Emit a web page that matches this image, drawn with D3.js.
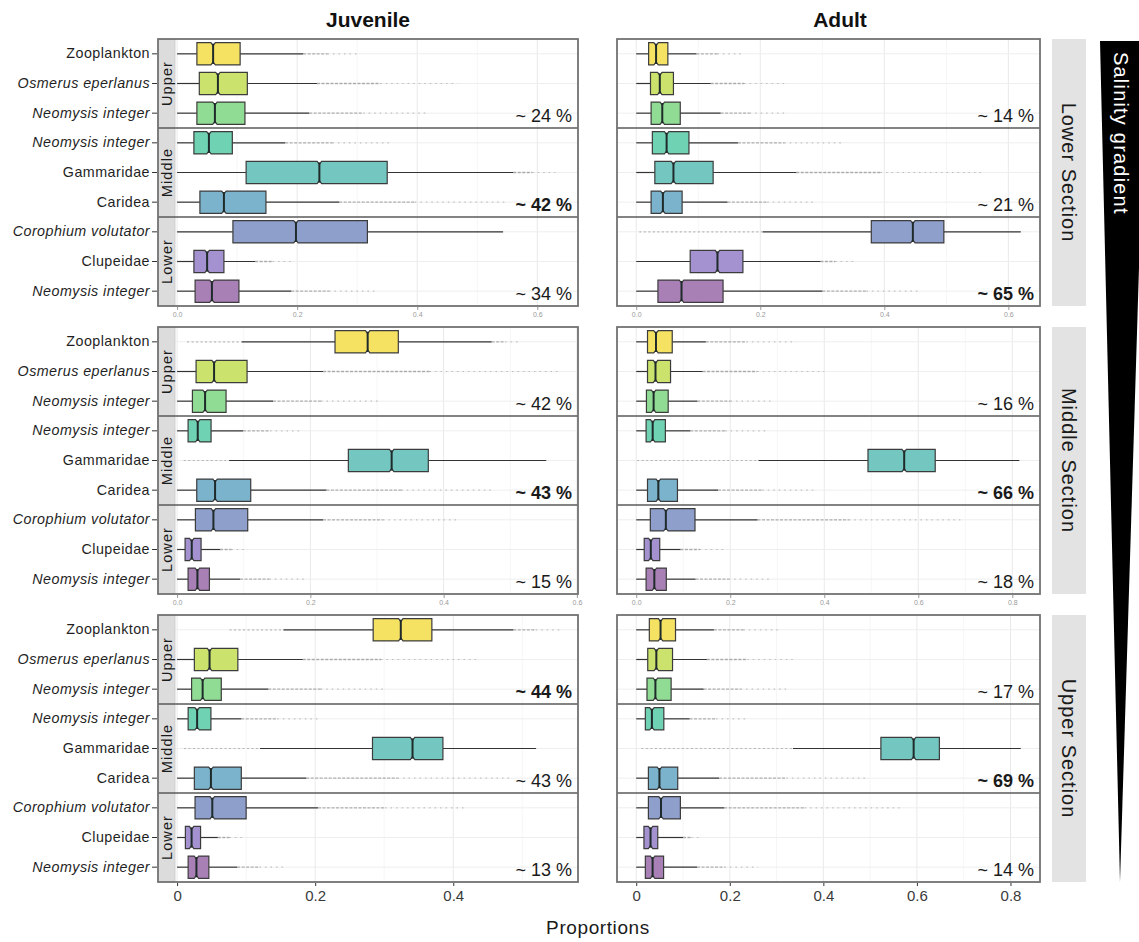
<!DOCTYPE html>
<html>
<head>
<meta charset="utf-8">
<script src="https://cdn.jsdelivr.net/npm/d3@7"></script>
<style>
  body { margin: 0; background: #fff; }
  svg { display: block; }
  text { font-family: "Liberation Sans", Arial, Helvetica, sans-serif; }
</style>
</head>
<body>
<svg id="chart" width="1139" height="942"></svg>
<script>
// ---- categories ----
const speciesNames = ["Zooplankton", "Osmerus eperlanus", "Neomysis integer",
  "Neomysis integer", "Gammaridae", "Caridea",
  "Corophium volutator", "Clupeidae", "Neomysis integer"];
const speciesItalic = [false, true, true, true, false, false, true, false, true];
const habitatGroups = ["Upper", "Middle", "Lower"];
const sectionNames = ["Lower Section", "Middle Section", "Upper Section"];
const stageNames = ["Juvenile", "Adult"];
const speciesFill = ["#f6e262", "#cbe36d", "#90dc94", "#6fd2b3", "#74c7c0",
  "#7cb3cc", "#8f9fcc", "#a392cf", "#a880b6"];

// ---- box statistics, one row per prey source ----
// [whisker low, Q1, median, Q3, whisker high, lowest outlier, highest outlier]
const juvenileLower = [
  [0, 0.033, 0.060, 0.105, 0.210, 0, 0.300],
  [0, 0.037, 0.068, 0.117, 0.233, 0, 0.467],
  [0, 0.033, 0.063, 0.113, 0.220, 0, 0.420],
  [0, 0.028, 0.053, 0.092, 0.180, 0, 0.355],
  [0, 0.115, 0.237, 0.350, 0.560, 0, 0.630],
  [0, 0.038, 0.078, 0.148, 0.270, 0, 0.550],
  [0, 0.093, 0.198, 0.317, 0.543, 0, 0.543],
  [0, 0.028, 0.050, 0.078, 0.130, 0, 0.195],
  [0, 0.030, 0.058, 0.103, 0.190, 0, 0.330]
];
const adultLower = [
  [0, 0.020, 0.032, 0.051, 0.097, 0, 0.172],
  [0, 0.023, 0.038, 0.060, 0.120, 0, 0.240],
  [0, 0.024, 0.042, 0.071, 0.136, 0, 0.240],
  [0, 0.026, 0.049, 0.085, 0.164, 0, 0.330],
  [0, 0.030, 0.060, 0.124, 0.258, 0, 0.560],
  [0, 0.024, 0.043, 0.074, 0.147, 0, 0.290],
  [0.204, 0.379, 0.446, 0.496, 0.620, 0.005, 0.620],
  [0, 0.087, 0.131, 0.172, 0.297, 0, 0.350],
  [0, 0.035, 0.073, 0.140, 0.300, 0, 0.458]
];
const juvenileMiddle = [
  [0.097, 0.237, 0.286, 0.332, 0.472, 0.015, 0.517],
  [0, 0.0285, 0.0555, 0.105, 0.219, 0, 0.574],
  [0, 0.023, 0.042, 0.0735, 0.144, 0, 0.304],
  [0, 0.0165, 0.031, 0.051, 0.099, 0, 0.189],
  [0.078, 0.257, 0.322, 0.377, 0.554, 0.010, 0.554],
  [0, 0.0295, 0.057, 0.1105, 0.224, 0, 0.474],
  [0, 0.0275, 0.0545, 0.106, 0.219, 0, 0.419],
  [0, 0.012, 0.022, 0.036, 0.0645, 0, 0.102],
  [0, 0.0165, 0.0305, 0.0485, 0.0945, 0, 0.192]
];
const adultMiddle = [
  [0, 0.024, 0.042, 0.0766, 0.148, 0, 0.340],
  [0, 0.024, 0.041, 0.073, 0.141, 0, 0.400],
  [0, 0.0217, 0.037, 0.068, 0.130, 0, 0.287],
  [0, 0.021, 0.035, 0.062, 0.115, 0, 0.280],
  [0.260, 0.493, 0.570, 0.636, 0.815, 0.002, 0.815],
  [0, 0.024, 0.047, 0.0877, 0.174, 0, 0.383],
  [0, 0.030, 0.063, 0.125, 0.258, 0, 0.690],
  [0, 0.017, 0.031, 0.050, 0.094, 0, 0.185],
  [0, 0.021, 0.0385, 0.064, 0.126, 0, 0.283]
];
const juvenileUpper = [
  [0.154, 0.284, 0.324, 0.369, 0.487, 0.076, 0.559],
  [0, 0.025, 0.047, 0.088, 0.182, 0, 0.434],
  [0, 0.021, 0.037, 0.064, 0.132, 0, 0.301],
  [0, 0.016, 0.029, 0.049, 0.093, 0, 0.209],
  [0.120, 0.283, 0.341, 0.385, 0.520, 0.010, 0.520],
  [0, 0.025, 0.049, 0.093, 0.187, 0, 0.481],
  [0, 0.026, 0.051, 0.100, 0.204, 0, 0.420],
  [0, 0.012, 0.021, 0.034, 0.059, 0, 0.096],
  [0, 0.016, 0.028, 0.046, 0.087, 0, 0.159]
];
const adultUpper = [
  [0, 0.028, 0.052, 0.084, 0.166, 0, 0.306],
  [0, 0.0246, 0.043, 0.0776, 0.151, 0, 0.343],
  [0, 0.023, 0.041, 0.0746, 0.144, 0, 0.320],
  [0, 0.0195, 0.0335, 0.059, 0.114, 0, 0.240],
  [0.335, 0.523, 0.593, 0.648, 0.822, 0.011, 0.822],
  [0, 0.026, 0.0496, 0.0887, 0.177, 0, 0.497],
  [0, 0.026, 0.053, 0.0944, 0.188, 0, 0.570],
  [0, 0.0165, 0.0306, 0.046, 0.100, 0, 0.140],
  [0, 0.0195, 0.035, 0.0585, 0.130, 0, 0.260]
];

// largest proportion reached in each panel (sets the x range)
const axisMaxJuvenile = [0.636, 0.573, 0.553];
const axisMaxAdult = [0.620, 0.818, 0.822];

// approximate share (%) of each habitat group, per section
const sharesJuvenile = [[24, 42, 34], [42, 43, 15], [44, 43, 13]];
const sharesAdult = [[14, 21, 65], [16, 66, 18], [17, 69, 14]];

const axisTicks = [0, 0.2, 0.4, 0.6, 0.8];

// ---- layout ----
const svg = d3.select("#chart");
const colLeft = [158, 617];
const colRight = [578, 1040];
const rowTop = [39, 327, 615];
const rowH = 267;
const stripW = 17;

const statsGrid = [
  [juvenileLower, adultLower],
  [juvenileMiddle, adultMiddle],
  [juvenileUpper, adultUpper]
];
const axisMax = [axisMaxJuvenile, axisMaxAdult];
const shares = [sharesJuvenile, sharesAdult];

function notchedBox(x1, xm, x3, c, h) {
  const n = 2.2, p = 3;
  return `M${x1},${c - h}H${xm - n}L${xm},${c - h + p}L${xm + n},${c - h}H${x3}` +
         `V${c + h}H${xm + n}L${xm},${c + h - p}L${xm - n},${c + h}H${x1}Z`;
}

function drawPanel(row, col) {
  const stats = statsGrid[row][col];
  const maxV = axisMax[col][row];
  const left = colLeft[col], right = colRight[col], top = rowTop[row];
  const bottom = top + rowH;
  const isBottom = row === rowTop.length - 1;
  const g = svg.append("g");

  const x = d3.scaleLinear().domain([-0.05 * maxV, 1.05 * maxV]).range([left, right]);
  const y = d3.scaleBand().domain(d3.range(speciesNames.length)).range([top, bottom]);
  const bw = y.bandwidth();
  const cy = i => y(i) + bw / 2;
  const h = bw * 0.75 / 2;
  const [d0, d1] = x.domain();
  const major = axisTicks.filter(v => v >= d0 && v <= d1);
  const minor = d3.range(0.1, d1, 0.2).filter(v => v >= d0 && v <= d1);

  g.append("rect").attr("x", left).attr("y", top)
    .attr("width", right - left).attr("height", rowH).attr("fill", "#fff");

  // grid
  g.append("g").selectAll("line").data(minor).join("line")
    .attr("x1", x).attr("x2", x).attr("y1", top).attr("y2", bottom)
    .attr("stroke", "#f4f4f4").attr("stroke-width", 0.8);
  g.append("g").selectAll("line").data(major).join("line")
    .attr("x1", x).attr("x2", x).attr("y1", top).attr("y2", bottom)
    .attr("stroke", "#e9e9e9").attr("stroke-width", 1);
  g.append("g").selectAll("line").data(d3.range(speciesNames.length)).join("line")
    .attr("x1", left).attr("x2", right).attr("y1", cy).attr("y2", cy)
    .attr("stroke", "#eeeeee").attr("stroke-width", 1);

  // outliers (dense runs of points drawn as faint dotted runs)
  const outG = g.append("g").attr("stroke", "#3c3c3c").attr("fill", "none");
  stats.forEach((s, i) => {
    const [lo, , , , hi, oMin, oMax] = s;
    if (oMax > hi) {
      const mid = hi + (oMax - hi) * 0.45;
      outG.append("line").attr("x1", x(hi)).attr("x2", x(mid)).attr("y1", cy(i)).attr("y2", cy(i))
        .attr("stroke-width", 1.3).attr("stroke-dasharray", "3 1.5").attr("opacity", 0.38);
      outG.append("line").attr("x1", x(mid)).attr("x2", x(oMax)).attr("y1", cy(i)).attr("y2", cy(i))
        .attr("stroke-width", 1.2).attr("stroke-dasharray", "1.5 4").attr("opacity", 0.28);
    }
    if (oMin < lo) {
      outG.append("line").attr("x1", x(oMin)).attr("x2", x(lo)).attr("y1", cy(i)).attr("y2", cy(i))
        .attr("stroke-width", 1.2).attr("stroke-dasharray", "2 2.5").attr("opacity", 0.32);
    }
  });

  // whiskers
  const wG = g.append("g").attr("stroke", "#333").attr("stroke-width", 1.2);
  wG.selectAll("line.lo").data(stats).join("line").attr("class", "lo")
    .attr("x1", d => x(d[0])).attr("x2", d => x(d[1]))
    .attr("y1", (d, i) => cy(i)).attr("y2", (d, i) => cy(i));
  wG.selectAll("line.hi").data(stats).join("line").attr("class", "hi")
    .attr("x1", d => x(d[3])).attr("x2", d => x(d[4]))
    .attr("y1", (d, i) => cy(i)).attr("y2", (d, i) => cy(i));

  // boxes
  g.append("g").selectAll("path").data(stats).join("path")
    .attr("d", (d, i) => notchedBox(x(d[1]), x(d[2]), x(d[3]), cy(i), h))
    .attr("fill", (d, i) => speciesFill[i])
    .attr("stroke", "#3c3c3c").attr("stroke-width", 1.2);
  g.append("g").selectAll("line").data(stats).join("line")
    .attr("x1", d => x(d[2])).attr("x2", d => x(d[2]))
    .attr("y1", (d, i) => cy(i) - h + 1).attr("y2", (d, i) => cy(i) + h - 1)
    .attr("stroke", "#1f2a2a").attr("stroke-width", 2);

  // left strip with habitat groups (juvenile column only)
  if (col === 0) {
    g.append("rect").attr("x", left).attr("y", top).attr("width", stripW).attr("height", rowH)
      .attr("fill", "#dcdcdc");
    g.append("line").attr("x1", left + stripW).attr("x2", left + stripW)
      .attr("y1", top).attr("y2", bottom).attr("stroke", "#c8c8c8").attr("stroke-width", 0.8);
    habitatGroups.forEach((name, k) => {
      const yc = y(k * 3) + bw * 1.5;
      g.append("text").attr("transform", `translate(${left + stripW / 2 + 5},${yc}) rotate(-90)`)
        .attr("text-anchor", "middle").attr("font-size", 14.5).attr("letter-spacing", 1.1)
        .attr("fill", "#1a1a1a").text(name);
    });
  }

  // group separators
  g.append("g").selectAll("line").data([3, 6]).join("line")
    .attr("x1", left).attr("x2", right).attr("y1", d => y(d)).attr("y2", d => y(d))
    .attr("stroke", "#5a5a5a").attr("stroke-width", 1.4);

  // group share labels
  const sh = shares[col][row];
  const maxShare = d3.max(sh);
  sh.forEach((v, k) => {
    g.append("text").attr("x", right - 6).attr("y", y(k * 3 + 2) + bw - 6)
      .attr("text-anchor", "end").attr("font-size", 18)
      .attr("font-weight", v === maxShare ? "bold" : "normal")
      .attr("fill", "#1a1a1a").text(`~ ${v} %`);
  });

  // border
  g.append("rect").attr("x", left).attr("y", top).attr("width", right - left).attr("height", rowH)
    .attr("fill", "none").attr("stroke", "#727272").attr("stroke-width", 1.8);

  // x axis
  const fmt = isBottom ? (v => v === 0 ? "0" : d3.format(".1f")(v)) : d3.format(".1f");
  const ax = g.append("g").attr("transform", `translate(0,${bottom + 1})`)
    .call(d3.axisBottom(x).tickValues(major).tickFormat(fmt).tickSize(3).tickPadding(isBottom ? 4 : 2));
  ax.select(".domain").remove();
  ax.selectAll(".tick line").attr("stroke", isBottom ? "#333" : "#999");
  ax.selectAll(".tick text")
    .attr("font-family", "'Liberation Sans', Arial, sans-serif")
    .attr("font-size", isBottom ? 15 : 7)
    .attr("fill", isBottom ? "#3a3a3a" : "#9a9a9a");

  // y axis with prey names
  if (col === 0) {
    const ay = g.append("g").attr("transform", `translate(${left - 1},0)`)
      .call(d3.axisLeft(y).tickFormat(i => speciesNames[i]).tickSize(5).tickPadding(2));
    ay.select(".domain").remove();
    ay.selectAll(".tick line").attr("stroke", "#333");
    ay.selectAll(".tick text")
      .attr("font-family", "'Liberation Sans', Arial, sans-serif")
      .attr("font-size", 14.3).attr("letter-spacing", 0.45)
      .attr("fill", "#1f1f1f")
      .attr("font-style", i => speciesItalic[i] ? "italic" : "normal");
  }
}

for (let r = 0; r < 3; r++) for (let c = 0; c < 2; c++) drawPanel(r, c);

// column titles
const titleX = [368, 840];
stageNames.forEach((name, c) => {
  svg.append("text").attr("x", titleX[c]).attr("y", 27)
    .attr("text-anchor", "middle").attr("font-size", 21).attr("font-weight", "bold")
    .attr("fill", "#111").text(name);
});

// section strips on the right
sectionNames.forEach((name, r) => {
  svg.append("rect").attr("x", 1052).attr("y", rowTop[r]).attr("width", 34).attr("height", rowH)
    .attr("fill", "#e3e3e3");
  svg.append("text")
    .attr("transform", `translate(${1069 - 7},${rowTop[r] + rowH / 2}) rotate(90)`)
    .attr("text-anchor", "middle").attr("font-size", 20).attr("letter-spacing", 1)
    .attr("fill", "#1a1a1a").text(name);
});

// salinity wedge
svg.append("path")
  .attr("d", "M1100,41 L1146,41 L1120,882 Z")
  .attr("fill", "#000");
svg.append("text")
  .attr("transform", "translate(1114,52) rotate(90)")
  .attr("text-anchor", "start").attr("font-size", 20).attr("letter-spacing", 1.2)
  .attr("fill", "#fff").text("Salinity gradient");

// shared x-axis title
svg.append("text").attr("x", 598).attr("y", 934).attr("text-anchor", "middle")
  .attr("font-size", 19).attr("letter-spacing", 0.6).attr("fill", "#1a1a1a").text("Proportions");
</script>
</body>
</html>
